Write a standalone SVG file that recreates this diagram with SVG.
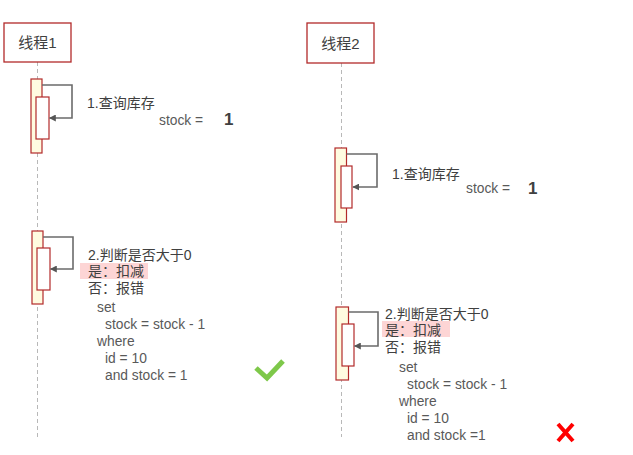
<svg xmlns="http://www.w3.org/2000/svg" width="633" height="455" viewBox="0 0 633 455">
<style>
.hdr{fill:#fff;stroke:#b22a2a;stroke-width:1.3}
.life{stroke:#b8b8b8;stroke-width:1;stroke-dasharray:4,3;fill:none}
.act{fill:#fffbe0;stroke:#b22a2a;stroke-width:1.2}
.inn{fill:#fff;stroke:#b22a2a;stroke-width:1.2}
.msg{fill:none;stroke:#6b6b6b;stroke-width:1.6}
.t{font-family:"Liberation Sans","Noto Sans CJK SC",sans-serif;font-size:14px;fill:#404040}
.h{font-family:"Liberation Sans","Noto Sans CJK SC",sans-serif;font-size:15px;fill:#404040}
.s{font-family:"Liberation Sans","Noto Sans CJK SC",sans-serif;font-size:13.8px;fill:#595959}
.big{font-family:"Liberation Sans",sans-serif;font-size:17px;font-weight:bold;fill:#404040}
.hl{fill:#fdd5d5}
</style>
<defs>
<marker id="ah" viewBox="0 0 10 10" refX="9" refY="5" markerWidth="7" markerHeight="7" markerUnits="userSpaceOnUse" orient="auto">
<path d="M0,0 L10,5 L0,10 z" fill="#555"/>
</marker>
</defs>
<g id="lifelines">
<line class="life" x1="37.5" y1="62" x2="37.5" y2="437"/>
<line class="life" x1="341.5" y1="63" x2="341.5" y2="437"/>
</g>
<g id="thread1">
<rect class="hdr" x="4" y="23" width="67" height="39"/>
<text class="h" x="37.5" y="48" text-anchor="middle">线程1</text>
</g>
<g id="thread2">
<rect class="hdr" x="307" y="23" width="67" height="40"/>
<text class="h" x="340.5" y="49" text-anchor="middle">线程2</text>
</g>
<g id="act1">
<rect class="act" x="31" y="79" width="11" height="74"/>
<rect class="inn" x="36" y="97" width="13" height="42"/>
</g>
<g id="act2">
<rect class="act" x="335" y="148" width="11.5" height="74"/>
<rect class="inn" x="341" y="166" width="11" height="42"/>
</g>
<g id="act3">
<rect class="act" x="32" y="231" width="11" height="73"/>
<rect class="inn" x="37" y="248" width="13" height="42"/>
</g>
<g id="act4">
<rect class="act" x="336" y="307" width="12.5" height="73"/>
<rect class="inn" x="342" y="324" width="12" height="42"/>
</g>
<g id="connectors">
<polyline class="msg" points="42,85 72,85 72,118 49.5,118" marker-end="url(#ah)"/>
<polyline class="msg" points="346.5,154 377,154 377,187 353,187" marker-end="url(#ah)"/>
<polyline class="msg" points="43,237 73,237 73,269 50.5,269" marker-end="url(#ah)"/>
<polyline class="msg" points="348.5,312 378,312 378,346 354.5,346" marker-end="url(#ah)"/>
</g>
<g id="label1">
<text class="t" x="87" y="108">1.查询库存</text>
<text class="s" x="159" y="125">stock =</text>
<text class="big" x="224" y="125">1</text>
</g>
<g id="label2">
<text class="t" x="392" y="179">1.查询库存</text>
<text class="s" x="466" y="193">stock =</text>
<text class="big" x="528" y="194">1</text>
</g>
<g id="label3">
<rect class="hl" x="80" y="263" width="68" height="16"/>
<text class="t" x="88" y="260">2.判断是否大于0</text>
<text class="t" x="88" y="276">是：扣减</text>
<text class="t" x="88" y="293">否：报错</text>
<text class="s" x="97" y="312">set</text>
<text class="s" x="105" y="329">stock = stock - 1</text>
<text class="s" x="97" y="346">where</text>
<text class="s" x="105" y="363">id = 10</text>
<text class="s" x="105" y="380">and stock = 1</text>
</g>
<g id="label4">
<rect class="hl" x="382" y="321" width="68" height="16"/>
<text class="t" x="385" y="319">2.判断是否大于0</text>
<text class="t" x="385" y="335">是：扣减</text>
<text class="t" x="385" y="352">否：报错</text>
<text class="s" x="399" y="372">set</text>
<text class="s" x="407" y="389">stock = stock - 1</text>
<text class="s" x="399" y="406">where</text>
<text class="s" x="407" y="423">id = 10</text>
<text class="s" x="407" y="440">and stock =1</text>
</g>
<g id="check">
<polyline points="256,368 267,378 283,361" fill="none" stroke="#7ec84a" stroke-width="5"/>
</g>
<g id="cross">
<path d="M558,424 L573,441 M573,424 L558,441" fill="none" stroke="#f00" stroke-width="4"/>
</g>
</svg>
